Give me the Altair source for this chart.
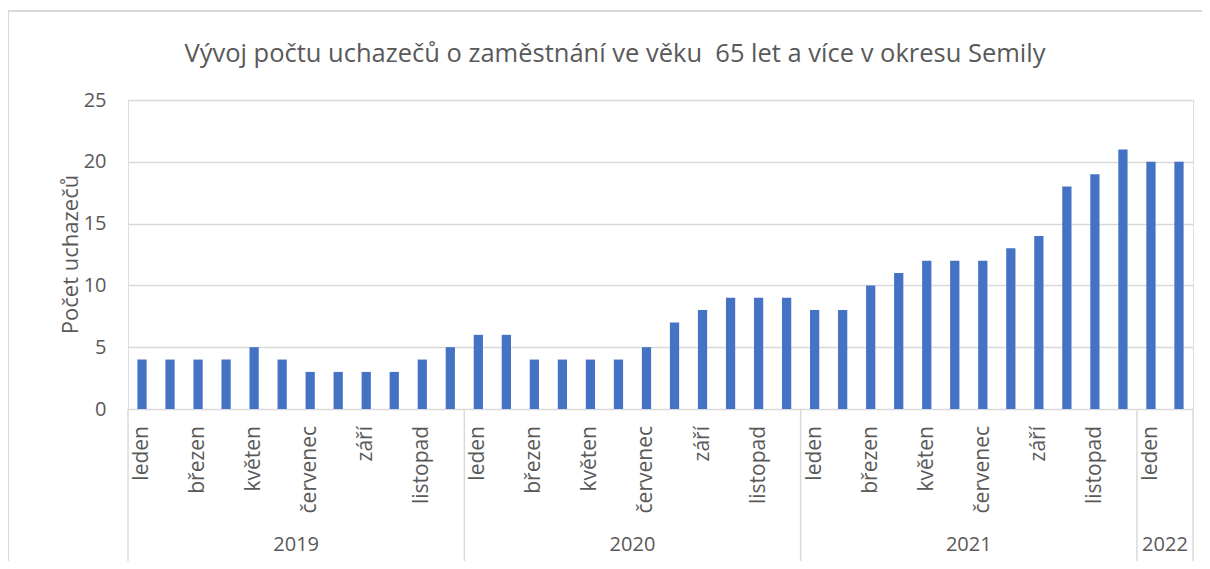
import altair as alt
import pandas as pd

TITLE = "Vývoj počtu uchazečů o zaměstnání ve věku\u00a0 65 let a více v okresu Semily"
Y_TITLE = "Počet uchazečů"

months = ["leden", "únor", "březen", "duben", "květen", "červen",
          "červenec", "srpen", "září", "říjen", "listopad", "prosinec"]
year_names = ["2019", "2020", "2021", "2022"]
months_per_year = [12, 12, 12, 2]
values = [4, 4, 4, 4, 5, 4, 3, 3, 3, 3, 4, 5,
          6, 6, 4, 4, 4, 4, 5, 7, 8, 9, 9, 9,
          8, 8, 10, 11, 12, 12, 12, 13, 14, 18, 19, 21,
          20, 20]
y_ticks = [0, 5, 10, 15, 20, 25]

# build tables
rows = []
idx = 0
for y, n in zip(year_names, months_per_year):
    for m in range(n):
        rows.append({"i": idx, "year": y, "month": months[m], "value": values[idx],
                     "show": idx % 2 == 0})
        idx += 1
df = pd.DataFrame(rows)

yrows = []
bounds = []
start = 0
for y, n in zip(year_names, months_per_year):
    s, e = start - 0.5, start + n - 0.5
    yrows.append({"year": y, "mid": (s + e) / 2})
    bounds.append(s)
    start += n
bounds.append(start - 0.5)
ydf = pd.DataFrame(yrows)
bdf = pd.DataFrame({"b": bounds})

N = len(values)
W, H = 1065, 309
TXT = "#595959"
GRID = "#d9d9d9"
FONT = "Open Sans"

xs = alt.Scale(domain=[-0.5, N - 0.5], nice=False, zero=False)

bars = alt.Chart(df).transform_calculate(
    x0="datum.i - 0.165", x1="datum.i + 0.165"
).mark_bar(color="#4472C4").encode(
    x=alt.X("x0:Q", scale=xs, axis=None),
    x2="x1:Q",
    y=alt.Y("value:Q", scale=alt.Scale(domain=[0, 25], nice=False),
            axis=alt.Axis(values=y_ticks, title=Y_TITLE, grid=True, gridColor=GRID,
                          gridWidth=1.3, domain=False, ticks=False, labelPadding=22,
                          labelFontSize=20, labelColor=TXT, labelFont=FONT,
                          titleFontSize=22, titleFont=FONT, titleColor=TXT,
                          titleFontWeight="normal", titleX=-58, titleY=154,
                          titleBaseline="middle", titleAlign="center")),
    y2=alt.datum(0),
)

mlabels = alt.Chart(df).transform_filter("datum.show").mark_text(
    angle=270, align="right", baseline="middle", fontSize=21, font=FONT, color=TXT
).encode(
    x=alt.X("i:Q", scale=xs, axis=None),
    y=alt.value(326),
    text="month:N",
)

ylabels = alt.Chart(ydf).mark_text(
    baseline="middle", fontSize=20, font=FONT, color=TXT
).encode(
    x=alt.X("mid:Q", scale=xs, axis=None),
    y=alt.value(445),
    text="year:N",
)

seps = alt.Chart(bdf).mark_rule(color=GRID, strokeWidth=1.5).encode(
    x=alt.X("b:Q", scale=xs, axis=None),
    y=alt.value(H),
    y2=alt.value(461),
)

frame_top = alt.Chart(bdf.head(1)).mark_rule(color=GRID, strokeWidth=2).encode(
    x=alt.value(-120), x2=alt.value(W + 10), y=alt.value(-89)
)
frame_left = alt.Chart(bdf.head(1)).mark_rule(color=GRID, strokeWidth=2).encode(
    x=alt.value(-120), y=alt.value(-89), y2=alt.value(461)
)

title = alt.Chart(bdf.head(1)).mark_text(
    text=TITLE, fontSize=25.5, font=FONT, color=TXT, align="center", baseline="alphabetic"
).encode(x=alt.value(487), y=alt.value(-38))

chart = alt.layer(frame_top, frame_left, bars, mlabels, ylabels, seps, title).properties(
    width=W, height=H,
    autosize=alt.AutoSizeParams(type="none"),
    padding={"left": 120, "top": 92, "right": 9, "bottom": 152},
).configure_view(strokeWidth=0).configure(background="white")

chart.save("out.html", embed_options={"renderer": "svg", "actions": False})
